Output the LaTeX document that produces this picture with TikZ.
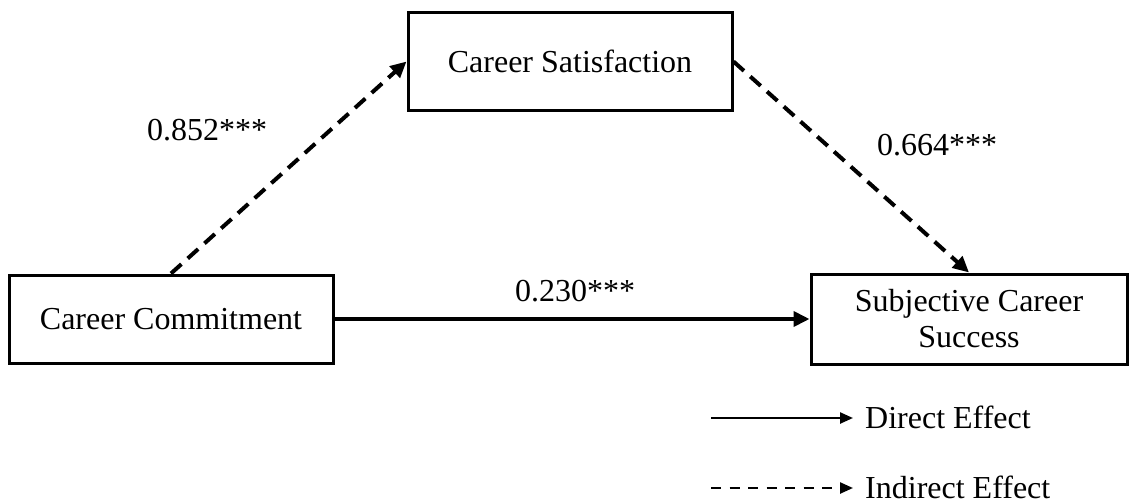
\documentclass[tikz,border=0pt]{standalone}
\usepackage{fontspec}
\setmainfont{Liberation Serif}
\usetikzlibrary{arrows.meta}

\tikzset{
  varbox/.style={draw, line width=3pt, rectangle, inner sep=0pt,
    align=center, font=\fontsize{32}{36}\selectfont},
  coef/.style={inner sep=0pt, font=\fontsize{32}{36}\selectfont},
  legtext/.style={inner sep=0pt, anchor=base west, font=\fontsize{32}{36}\selectfont},
  direct/.style={line width=3.8pt, -{Triangle[length=16pt,width=15pt]}},
  indirect/.style={line width=4pt, dash pattern=on 14pt off 8.5pt,
    -{Triangle[length=16pt,width=15pt]}},
  legdirect/.style={line width=2.4pt, -{Triangle[length=13pt,width=11pt]}},
  legindirect/.style={line width=2.4pt, dash pattern=on 10pt off 8.5pt,
    -{Triangle[length=13pt,width=11pt]}}
}

\begin{document}
\begin{tikzpicture}[x=1pt, y=-1pt]
  \useasboundingbox (0,0) rectangle (1129,503);

  % variables
  \node[varbox, minimum width=324pt, minimum height=97pt] (sat) at (570,61.5) {Career Satisfaction};
  \node[varbox, minimum width=324pt, minimum height=88pt] (com) at (171,319) {Career Commitment};
  \node[varbox, minimum width=316pt, minimum height=90pt] (suc) at (969,319) {Subjective Career\\Success};

  % paths
  \draw[indirect] (com.north) -- (sat.west);
  \draw[indirect] (sat.east) -- (suc.north);
  \draw[direct] (com.east) -- (suc.west);

  % coefficients
  \node[coef, anchor=base] (b1) at (207,140) {0.852***};
  \node[coef, anchor=base] (b2) at (937,155) {0.664***};
  \node[coef, anchor=base] (b3) at (575,301) {0.230***};

  % legend
  \coordinate (ld1) at (711,418);
  \coordinate (ld2) at (853,418);
  \coordinate (li1) at (711,488);
  \coordinate (li2) at (853,488);
  \draw[legdirect] (ld1) -- (ld2);
  \draw[legindirect] (li1) -- (li2);
  \node[legtext] (ldt) at (865,428) {Direct Effect};
  \node[legtext] (lit) at (865,498) {Indirect Effect};
\end{tikzpicture}
\end{document}
